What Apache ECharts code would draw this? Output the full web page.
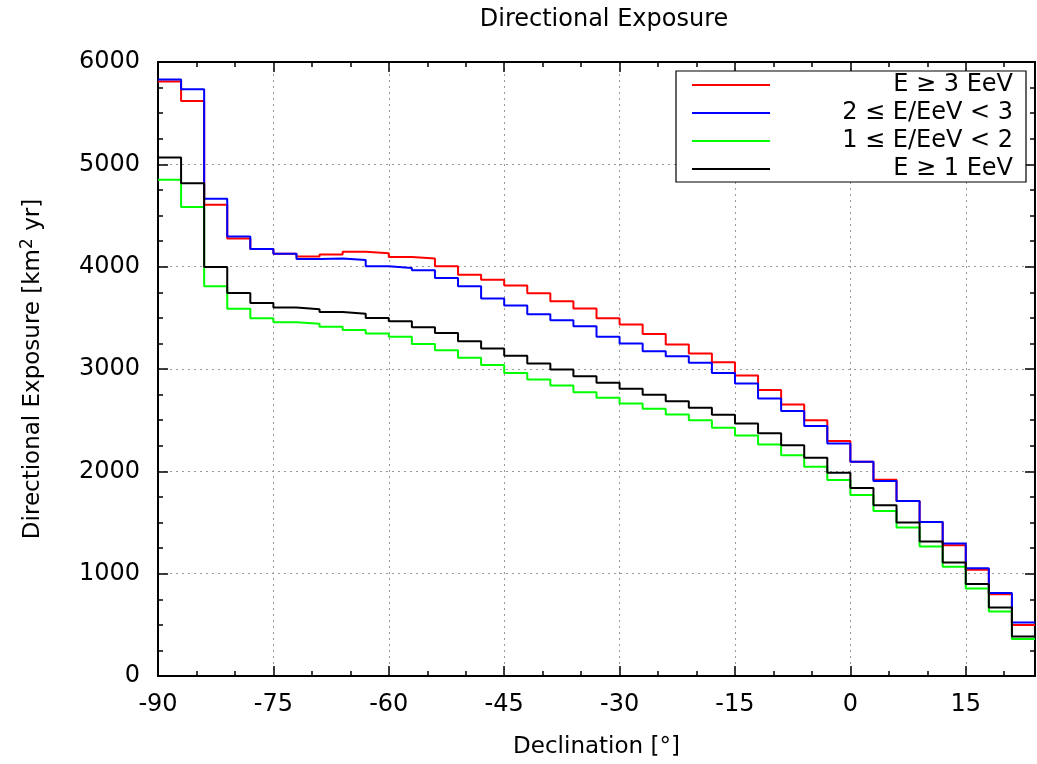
<!DOCTYPE html>
<html>
<head>
<meta charset="utf-8">
<script src="https://cdn.jsdelivr.net/npm/echarts@6/dist/echarts.min.js"></script>
<style>
html,body{margin:0;padding:0;background:#fff;}
#chart{width:1037px;height:764px;}
</style>
</head>
<body>
<div id="chart"></div>
<script>
// Bin left edges (3° bins from -90 to 24)
const binStart = -90;
const binWidth = 3;
const seriesNames = ['E \u2265 3 EeV', '2 \u2264 E/EeV < 3', '1 \u2264 E/EeV < 2', 'E \u2265 1 EeV'];
const seriesColors = ['#ff0000', '#0000ff', '#00ff00', '#000000'];
const xTickLabels = [-90, -75, -60, -45, -30, -15, 0, 15];
const yTickLabels = [0, 1000, 2000, 3000, 4000, 5000, 6000];

const redE3 = [5810, 5620, 4605, 4276, 4173, 4127, 4100, 4120, 4146, 4130, 4094, 4081, 4003, 3922, 3873, 3815, 3740, 3662, 3590, 3496, 3434, 3343, 3239, 3151, 3067, 2937, 2794, 2654, 2498, 2296, 2094, 1918, 1711, 1506, 1278, 1038, 800, 498];
const blueE2to3 = [5830, 5733, 4663, 4296, 4173, 4127, 4075, 4080, 4066, 4003, 3987, 3964, 3890, 3808, 3688, 3621, 3535, 3476, 3418, 3314, 3249, 3174, 3125, 3060, 2960, 2859, 2712, 2589, 2443, 2273, 2094, 1906, 1711, 1506, 1294, 1054, 810, 524];
const greenE1to2 = [4849, 4582, 3808, 3588, 3496, 3457, 3441, 3413, 3382, 3346, 3314, 3245, 3184, 3109, 3038, 2962, 2898, 2839, 2774, 2719, 2663, 2611, 2556, 2500, 2426, 2351, 2263, 2156, 2046, 1915, 1768, 1613, 1451, 1265, 1067, 855, 631, 361];
const blackE1 = [5066, 4816, 3997, 3743, 3646, 3600, 3584, 3556, 3540, 3499, 3467, 3408, 3352, 3271, 3200, 3130, 3054, 2995, 2930, 2865, 2806, 2748, 2686, 2621, 2553, 2468, 2371, 2254, 2133, 1987, 1838, 1668, 1499, 1314, 1109, 898, 670, 387];

const allValues = [redE3, blueE2to3, greenE1to2, blackE1];

function toSteps(vals) {
  const pts = vals.map((v, i) => [binStart + i * binWidth, v]);
  pts.push([binStart + vals.length * binWidth, vals[vals.length - 1]]);
  return pts;
}

const FONT = 'DejaVu Sans';
const xMin = -90, xMax = 24;

const chart = echarts.init(document.getElementById('chart'), null, {renderer: 'canvas'});

const gridLine = {show: true, lineStyle: {color: '#999999', width: 1, type: [2, 4]}};

chart.setOption({
  backgroundColor: '#ffffff',
  animation: false,
  title: {
    text: 'Directional Exposure',
    left: 599,
    textAlign: 'center',
    top: 3,
    textStyle: {fontFamily: FONT, fontSize: 24, fontWeight: 'normal', color: '#000'}
  },
  grid: {left: 158, right: 2, top: 62, bottom: 87},
  legend: {
    data: seriesNames,
    orient: 'vertical',
    left: 676,
    top: 71,
    padding: [2, 13, 1, 16],
    itemGap: 4,
    itemWidth: 78,
    itemHeight: 2,
    icon: 'rect',
    borderColor: '#000',
    borderWidth: 1.2,
    backgroundColor: '#fff',
    formatter: '{a|{name}}',
    textStyle: {
      fontFamily: FONT, fontSize: 24, color: '#000',
      rich: {a: {fontFamily: FONT, fontSize: 24, width: 238, align: 'right', lineHeight: 24, color: '#000'}}
    }
  },
  xAxis: [
    {
      type: 'value', position: 'bottom', min: xMin, max: xMax, interval: 15,
      axisLine: {onZero: false, lineStyle: {color: '#000', width: 2}},
      axisTick: {inside: true, length: 10, lineStyle: {color: '#000', width: 1.5}},
      axisLabel: {
        fontFamily: FONT, fontSize: 24, color: '#000', margin: 17, showMaxLabel: false,
        formatter: v => (xTickLabels.indexOf(v) >= 0 ? String(v) : '')
      },
      splitLine: gridLine,
      name: 'Declination [\u00b0]',
      nameLocation: 'middle',
      nameGap: 60,
      nameTextStyle: {fontFamily: FONT, fontSize: 23, color: '#000'}
    },
    {
      type: 'value', position: 'top', min: xMin, max: xMax, interval: 15,
      axisLine: {onZero: false, lineStyle: {color: '#000', width: 2}},
      axisTick: {inside: true, length: 10, lineStyle: {color: '#000', width: 1.5}},
      axisLabel: {show: false},
      splitLine: {show: false}
    },
    {
      type: 'value', position: 'bottom', min: xMin, max: xMax, interval: 5,
      axisLine: {show: false, onZero: false},
      axisTick: {inside: true, length: 5, lineStyle: {color: '#000', width: 1.5}},
      axisLabel: {show: false},
      splitLine: {show: false}
    },
    {
      type: 'value', position: 'top', min: xMin, max: xMax, interval: 5,
      axisLine: {show: false, onZero: false},
      axisTick: {inside: true, length: 5, lineStyle: {color: '#000', width: 1.5}},
      axisLabel: {show: false},
      splitLine: {show: false}
    }
  ],
  yAxis: [
    {
      type: 'value', position: 'left', min: 0, max: 6000, interval: 1000,
      axisLine: {show: true, onZero: false, lineStyle: {color: '#000', width: 2}},
      axisTick: {show: true, inside: true, length: 10, lineStyle: {color: '#000', width: 1.5}},
      minorTick: {show: true, splitNumber: 4, length: 5, lineStyle: {color: '#000', width: 1.5}},
      axisLabel: {
        fontFamily: FONT, fontSize: 24, color: '#000', margin: 18,
        formatter: v => (yTickLabels.indexOf(v) >= 0 ? String(v) : '')
      },
      splitLine: gridLine,
      name: 'Directional Exposure [km{s|2} yr]',
      nameLocation: 'middle',
      nameGap: 110,
      nameTextStyle: {
        fontFamily: FONT, fontSize: 23, color: '#000',
        rich: {s: {fontFamily: FONT, fontSize: 17, color: '#000', padding: [0, 0, 12, 0]}}
      }
    },
    {
      type: 'value', position: 'right', min: 0, max: 6000, interval: 1000,
      axisLine: {show: true, onZero: false, lineStyle: {color: '#000', width: 2}},
      axisTick: {show: true, inside: true, length: 10, lineStyle: {color: '#000', width: 1.5}},
      minorTick: {show: true, splitNumber: 4, length: 5, lineStyle: {color: '#000', width: 1.5}},
      axisLabel: {show: false},
      splitLine: {show: false}
    }
  ],
  series: allValues.map((vals, k) => ({
    name: seriesNames[k],
    type: 'line',
    step: 'end',
    xAxisIndex: 0,
    yAxisIndex: 0,
    symbol: 'none',
    data: toSteps(vals),
    lineStyle: {color: seriesColors[k], width: 2},
    itemStyle: {color: seriesColors[k]},
    z: 3 + k
  }))
});
</script>
</body>
</html>
